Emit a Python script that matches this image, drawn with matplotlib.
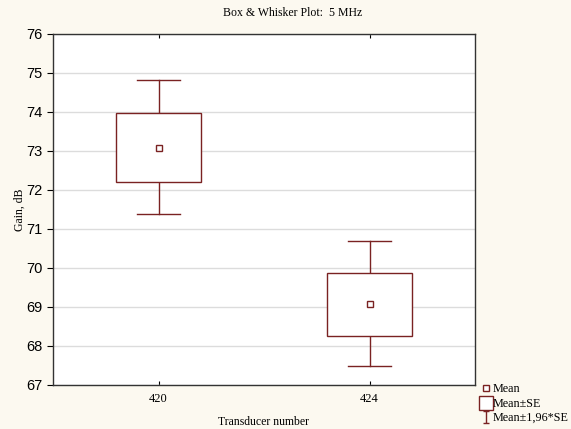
import matplotlib.pyplot as plt
from matplotlib.lines import Line2D
from matplotlib.patches import Rectangle
from matplotlib.path import Path

# values
transducers = ['420', '424']
means = [73.08, 69.08]
se_low = [72.20, 68.25]
se_high = [73.98, 69.88]
ci_low = [71.38, 67.48]
ci_high = [74.82, 70.68]

box_color = '#7a2222'
bg_color = '#fcf9f0'

fig = plt.figure(figsize=(5.71, 4.29), dpi=100, facecolor=bg_color)
ax = fig.add_axes([53 / 571, 1 - 385 / 429, 422 / 571, 351 / 429])
ax.set_facecolor('white')

box_w = 0.4
cap_w = 0.2
for i, name in enumerate(transducers):
	# whiskers (mean +- 1.96*SE)
	ax.plot([i, i], [se_high[i], ci_high[i]], color=box_color, lw=1, zorder=3)
	ax.plot([i, i], [ci_low[i], se_low[i]], color=box_color, lw=1, zorder=3)
	ax.plot([i - cap_w / 2, i + cap_w / 2], [ci_high[i]] * 2, color=box_color, lw=1, zorder=3)
	ax.plot([i - cap_w / 2, i + cap_w / 2], [ci_low[i]] * 2, color=box_color, lw=1, zorder=3)
	# box (mean +- SE)
	ax.add_patch(Rectangle((i - box_w / 2, se_low[i]), box_w, se_high[i] - se_low[i],
		facecolor='white', edgecolor=box_color, lw=1, zorder=3))
	# mean
	ax.plot(i, means[i], marker='s', ms=4, mfc='white', mec=box_color, mew=1, zorder=4)

ax.set_xlim(-0.5, 1.5)
ax.set_ylim(67, 76)
ax.set_xticks(range(len(transducers)))
ax.set_xticklabels(transducers, family='Liberation Serif', fontsize=9)
ax.set_yticks(range(67, 77))
ax.tick_params(axis='y', labelsize=10.5, direction='out', length=4, width=0.8)
for lab in ax.get_yticklabels():
	lab.set_family('Liberation Sans')
ax.tick_params(axis='x', direction='in', length=3, width=0.8, top=True, pad=6)
ax.grid(True, axis='y', color='#dcdcdc', lw=1)
ax.set_axisbelow(True)
for sp in ax.spines.values():
	sp.set_color('#333333')
	sp.set_linewidth(1)

fig.text(293 / 571, 1 - 13 / 429, 'Box & Whisker Plot:  5 MHz', ha='center', va='center',
	family='Liberation Serif', fontsize=8.5)
ax.set_xlabel('Transducer number', family='Liberation Serif', fontsize=8.5, labelpad=8)
ax.set_ylabel('Gain, dB', family='Liberation Serif', fontsize=8.5, labelpad=0)

# I-shaped marker for the whisker entry
whisker_marker = Path(
	[(-0.5, -1), (0.5, -1), (0, -1), (0, 1), (-0.5, 1), (0.5, 1)],
	[Path.MOVETO, Path.LINETO, Path.MOVETO, Path.LINETO, Path.MOVETO, Path.LINETO])

handles = [
	Line2D([], [], ls='none', marker='s', ms=4, mfc='white', mec=box_color, mew=1),
	Line2D([], [], ls='none', marker='s', ms=9.5, mfc='white', mec=box_color, mew=1),
	Line2D([], [], ls='none', marker=whisker_marker, ms=9, mfc='none', mec=box_color, mew=1),
]
labels = ['Mean', 'Mean\u00b1SE', 'Mean\u00b11,96*SE']
fig.legend(handles, labels, loc='lower left', bbox_to_anchor=(476 / 571, 0.0),
	frameon=False, handlelength=0.8, handletextpad=0.15, labelspacing=0.2,
	borderaxespad=0.0, prop={'family': 'Liberation Serif', 'size': 8.7})

fig.savefig('out.png', dpi=100, facecolor=bg_color)
